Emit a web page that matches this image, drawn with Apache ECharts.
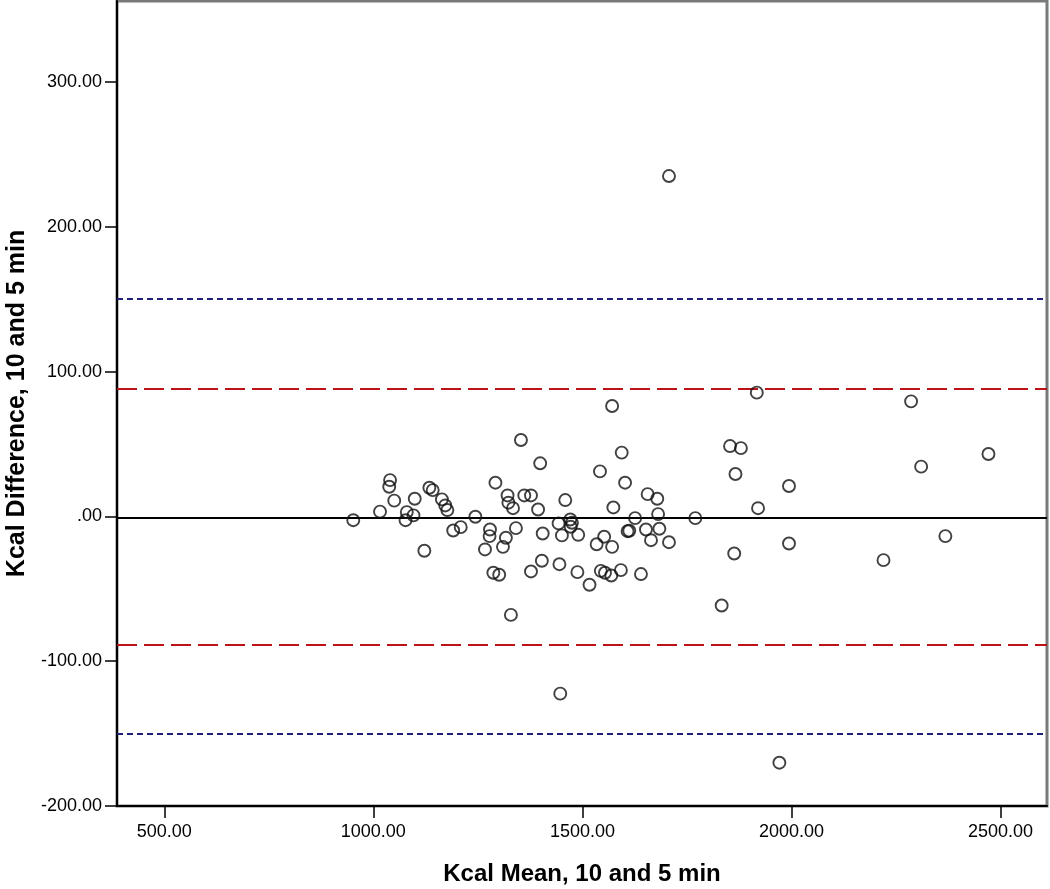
<!DOCTYPE html>
<html>
<head>
<meta charset="utf-8">
<script src="https://cdn.jsdelivr.net/npm/echarts@6/dist/echarts.min.js"></script>
<style>
  html, body { margin: 0; padding: 0; background: #fff; }
  #main { width: 1050px; height: 889px; }
</style>
</head>
<body>
<div id="main"></div>
<script>
// Bland-Altman: mean of the two measures vs their difference
const kcalMean = [
  952, 1016, 1040, 1038, 1050, 1077, 1080, 1096, 1099, 1122,
  1134, 1142, 1164, 1172, 1177, 1191, 1209, 1244, 1292, 1279,
  1278, 1267, 1310, 1317, 1287, 1301, 1353, 1399, 1321, 1323,
  1334, 1361, 1377, 1394, 1459, 1443, 1471, 1475, 1472, 1341,
  1405, 1451, 1490, 1403, 1445, 1377, 1488, 1517, 1329, 1542,
  1594, 1602, 1574, 1608, 1534, 1552, 1571, 1544, 1554, 1569,
  1592, 1656, 1679, 1626, 1681, 1612, 1652, 1684, 1664, 1707,
  1640, 1571, 1770, 1707, 1917, 1853, 1879, 1866, 1994, 1920,
  1994, 1863, 1833, 2286, 2471, 2310, 2368, 2220, 1447, 1971
]
const kcalDiff = [
  -2.6, 3.3, 25.1, 20.5, 10.9, -2.6, 3.0, 0.7, 12.2, -23.7,
  19.8, 18.2, 11.8, 7.6, 4.4, -9.7, -7.4, -0.2, 23.3, -9.0,
  -13.6, -22.8, -21.0, -14.7, -38.9, -40.3, 52.8, 36.7, 14.5, 9.5,
  5.7, 14.5, 14.5, 4.8, 11.3, -4.8, -2.1, -4.4, -7.1, -8.1,
  -11.8, -13.1, -12.7, -30.6, -33.0, -38.0, -38.5, -47.2, -68.0, 31.1,
  44.1, 23.3, 6.2, -10.2, -19.2, -14.0, -21.0, -37.6, -38.9, -40.8,
  -37.1, 15.4, 12.2, -1.2, 1.6, -9.9, -9.0, -8.5, -16.4, -17.8,
  -39.8, 76.3, -1.2, 235.1, 85.5, 48.6, 47.2, 29.3, 21.0, 5.7,
  -18.7, -25.6, -61.5, 79.5, 43.1, 34.4, -13.6, -30.2, -122.4, -170.1
]

const xTicks = [500, 1000, 1500, 2000, 2500]
const yTicks = [-200, -100, 0, 100, 200, 300]

const meanDiff = -0.8
const loaLimits = [88.3, -88.5]     // red long dash
const fixedLimits = [150.5, -150]   // blue short dash

var myChart = echarts.init(document.getElementById('main'))

var points = kcalMean.map(function (m, i) { return [m, kcalDiff[i]] })

function fmt(v) {
  var s = v.toFixed(2)
  if (s === '0.00') return '.00'
  return s
}

var lines = [{ yAxis: meanDiff, lineStyle: { color: '#000', width: 2, type: 'solid' } }]
loaLimits.forEach(function (v) {
  lines.push({ yAxis: v, lineStyle: { color: '#bd1218', width: 2, type: [20, 7] } })
})
fixedLimits.forEach(function (v) {
  lines.push({ yAxis: v, lineStyle: { color: '#20207a', width: 2, type: [6, 4] } })
})

var option = {
  animation: false,
  grid: {
    left: 117,
    right: 3,
    top: 1,
    bottom: 83,
    outerBoundsMode: 'none',
    containLabel: false,
    show: true,
    borderColor: '#7a7a7a',
    borderWidth: 3,
    backgroundColor: '#fff'
  },
  xAxis: {
    type: 'value',
    min: 387,
    max: 2611,
    name: 'Kcal Mean, 10 and 5 min',
    nameLocation: 'middle',
    nameGap: 56,
    nameTextStyle: { fontFamily: 'Liberation Sans', fontWeight: 'bold', fontSize: 24, color: '#000' },
    splitLine: { show: false },
    axisLine: { show: true, onZero: false, lineStyle: { color: '#000', width: 2 } },
    axisTick: { show: true, length: 12, customValues: xTicks, lineStyle: { color: '#000', width: 1.5 } },
    axisLabel: {
      customValues: xTicks,
      margin: 17,
      fontFamily: 'Liberation Sans',
      fontSize: 18,
      color: '#000',
      formatter: fmt
    }
  },
  yAxis: {
    type: 'value',
    min: -200,
    max: 356,
    name: 'Kcal Difference, 10 and 5 min',
    nameLocation: 'middle',
    nameGap: 86,
    nameTextStyle: { fontFamily: 'Liberation Sans', fontWeight: 'bold', fontSize: 25, color: '#000' },
    splitLine: { show: false },
    axisLine: { show: true, onZero: false, lineStyle: { color: '#000', width: 2 } },
    axisTick: { show: true, length: 12, customValues: yTicks, lineStyle: { color: '#000', width: 1.5 } },
    axisLabel: {
      customValues: yTicks,
      margin: 15,
      fontFamily: 'Liberation Sans',
      fontSize: 18,
      color: '#000',
      formatter: fmt
    }
  },
  series: [
    {
      type: 'scatter',
      symbol: 'circle',
      symbolSize: 12,
      z: 3,
      itemStyle: {
        color: 'rgba(255,255,255,0)',
        borderColor: '#111',
        borderWidth: 1.9
      },
      markLine: {
        silent: true,
        symbol: 'none',
        label: { show: false },
        z: 2,
        data: lines
      },
      data: points
    }
  ]
}

myChart.setOption(option)
</script>
</body>
</html>
